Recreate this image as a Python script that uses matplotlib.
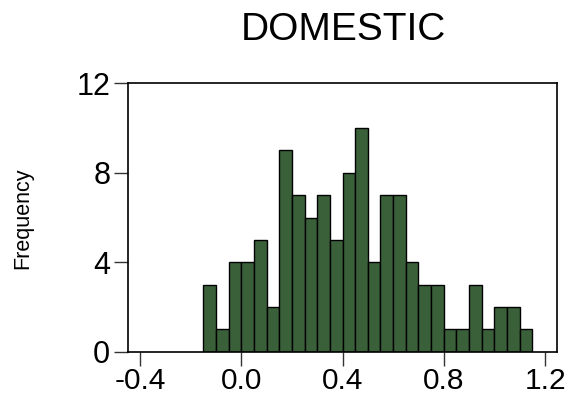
import matplotlib
matplotlib.use("Agg")
import matplotlib.pyplot as plt
import numpy as np

# histogram of DOMESTIC, bin width 0.05
bin_width = 0.05
bin_left = np.round(np.arange(-0.15, 1.15 - 1e-9, bin_width), 2)
counts = [3, 1, 4, 4, 5, 2, 9, 7, 6, 7, 5, 8, 10, 4, 7, 7, 4, 3, 3, 1, 1, 3, 1, 2, 2, 1]
x_ticks = [-0.4, 0.0, 0.4, 0.8, 1.2]
y_ticks = [0, 4, 8, 12]

plt.rcParams['font.family'] = ['Liberation Sans', 'DejaVu Sans']
plt.rcParams['axes.unicode_minus'] = False

fig = plt.figure(figsize=(5.71, 3.96), dpi=100)
ax = fig.add_axes([0.2247, 0.1119, 0.7503, 0.6777])

ax.bar(bin_left, counts, width=bin_width, align='edge',
       color='#3a603a', edgecolor='black', linewidth=1.0)

ax.set_xlim(-0.446, 1.246)
ax.set_ylim(0, 12)
ax.set_xticks(x_ticks)
ax.set_xticklabels([f"{t:.1f}" for t in x_ticks])
ax.set_yticks(y_ticks)
ax.tick_params(axis='both', labelsize=22, length=10, width=1, color='#333333',
               direction='out')
ax.tick_params(axis='y', pad=3)
ax.tick_params(axis='x', labelsize=21.5, pad=1)
for s in ax.spines.values():
    s.set_linewidth(1.2)

fig.text(0.601, 0.925, "DOMESTIC", ha='center', va='center', fontsize=28)
fig.text(0.04, 0.45, "Frequency", rotation=90, ha='center', va='center',
         fontsize=15.5)

fig.savefig("out.png", dpi=100)
